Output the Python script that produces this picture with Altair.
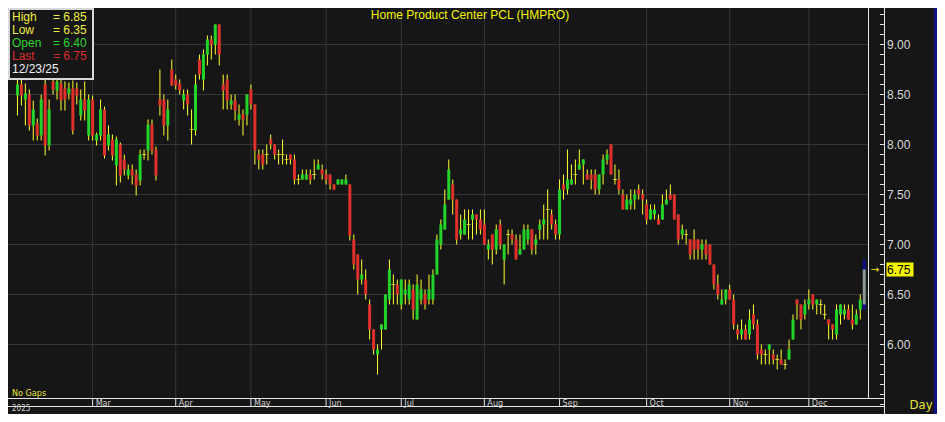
import altair as alt
import pandas as pd

# ---- OHLC readings, one per trading day (Feb 3 2025 .. Dec 23 2025) ----
opens = [8.49, 8.60, 8.45, 8.50, 8.19, 8.21, 8.09, 8.60, 7.99, 8.63,
         8.54, 8.61, 8.56, 8.51, 8.56, 8.56, 8.29, 8.45, 8.09, 8.45,
         8.04, 8.09, 8.35, 7.99, 8.05, 7.79, 8.00, 7.85, 7.69, 7.75,
         7.70, 7.64, 7.90, 7.94, 8.20, 7.95, 8.45, 8.45, 8.19, 8.75,
         8.65, 8.61, 8.44, 8.50, 8.15, 8.14, 8.85, 8.65, 8.90, 9.05,
         9.00, 9.20, 8.60, 8.65, 8.40, 8.44, 8.25, 8.30, 8.30, 8.55,
         8.40, 7.90, 7.90, 7.90, 8.05, 8.00, 7.90, 7.90, 7.85, 7.90,
         7.85, 7.65, 7.65, 7.65, 7.70, 7.70, 7.75, 7.75, 7.70, 7.70,
         7.60, 7.60, 7.60, 7.60, 7.60, 7.05, 6.90, 6.65, 6.65, 6.40,
         6.15, 5.90, 6.15, 6.15, 6.45, 6.60, 6.60, 6.40, 6.50, 6.45,
         6.55, 6.25, 6.45, 6.50, 6.45, 6.45, 6.70, 7.00, 7.15, 7.45,
         7.60, 7.45, 7.10, 7.10, 7.20, 7.25, 7.30, 7.25, 7.20, 6.95,
         7.10, 6.95, 7.20, 6.85, 7.10, 7.10, 7.05, 6.90, 6.95, 7.05,
         7.15, 7.00, 7.15, 7.20, 7.35, 7.30, 7.20, 7.10, 7.60, 7.55,
         7.60, 7.70, 7.75, 7.80, 7.70, 7.70, 7.70, 7.55, 7.70, 7.85,
         8.00, 7.65, 7.65, 7.50, 7.35, 7.40, 7.45, 7.55, 7.50, 7.40,
         7.25, 7.30, 7.25, 7.25, 7.40, 7.50, 7.50, 7.30, 7.10, 7.10,
         7.05, 7.05, 7.05, 6.95, 7.00, 7.00, 6.80, 6.60, 6.40, 6.45,
         6.55, 6.45, 6.15, 6.10, 6.15, 6.10, 6.30, 6.20, 5.95, 5.90,
         5.95, 5.90, 5.85, 5.85, 5.80, 5.85, 6.05, 6.45, 6.40, 6.30,
         6.40, 6.50, 6.40, 6.40, 6.30, 6.25, 6.20, 6.10, 6.30, 6.30,
         6.35, 6.25, 6.20, 6.35, 6.40]
highs = [8.66, 8.70, 8.61, 8.55, 8.44, 8.26, 8.50, 8.65, 8.45, 8.70,
         8.70, 8.66, 8.63, 8.62, 8.64, 8.62, 8.55, 8.63, 8.50, 8.49,
         8.12, 8.45, 8.38, 8.19, 8.10, 8.08, 8.02, 7.90, 7.80, 7.80,
         7.75, 7.95, 7.95, 8.25, 8.25, 7.98, 8.75, 8.50, 8.45, 8.85,
         8.70, 8.65, 8.55, 8.55, 8.35, 8.70, 8.90, 8.95, 9.09, 9.09,
         9.20, 9.20, 8.70, 8.70, 8.50, 8.50, 8.40, 8.35, 8.50, 8.60,
         8.40, 7.95, 7.95, 8.00, 8.10, 8.00, 7.95, 8.05, 7.90, 7.90,
         7.90, 7.70, 7.75, 7.75, 7.75, 7.85, 7.85, 7.80, 7.75, 7.70,
         7.60, 7.65, 7.65, 7.70, 7.60, 7.10, 6.90, 6.85, 6.75, 6.45,
         6.15, 6.00, 6.20, 6.50, 6.85, 6.70, 6.65, 6.65, 6.65, 6.65,
         6.60, 6.70, 6.65, 6.55, 6.70, 6.75, 7.10, 7.25, 7.55, 7.85,
         7.65, 7.45, 7.30, 7.35, 7.35, 7.35, 7.30, 7.35, 7.35, 7.05,
         7.10, 7.20, 7.25, 7.00, 7.15, 7.15, 7.10, 7.10, 7.20, 7.20,
         7.15, 7.10, 7.25, 7.40, 7.55, 7.35, 7.25, 7.65, 7.70, 7.95,
         7.80, 7.85, 7.95, 7.85, 7.75, 7.75, 7.75, 7.70, 7.90, 7.95,
         8.00, 7.80, 7.75, 7.55, 7.50, 7.55, 7.55, 7.60, 7.55, 7.45,
         7.40, 7.40, 7.30, 7.50, 7.55, 7.60, 7.50, 7.30, 7.20, 7.15,
         7.05, 7.15, 7.05, 7.05, 7.05, 7.00, 6.80, 6.70, 6.55, 6.55,
         6.60, 6.50, 6.20, 6.25, 6.20, 6.35, 6.40, 6.25, 6.00, 5.95,
         6.00, 5.95, 5.90, 5.95, 5.85, 6.05, 6.30, 6.45, 6.40, 6.45,
         6.55, 6.50, 6.45, 6.45, 6.40, 6.25, 6.20, 6.40, 6.40, 6.40,
         6.40, 6.40, 6.35, 6.50, 6.85]
lows = [8.29, 8.39, 8.19, 8.14, 8.04, 8.04, 8.04, 7.89, 7.94, 8.50,
        8.45, 8.34, 8.34, 8.45, 8.10, 8.40, 8.24, 8.24, 8.04, 8.04,
        7.99, 8.04, 7.86, 7.94, 7.84, 7.59, 7.62, 7.69, 7.65, 7.60,
        7.49, 7.59, 7.85, 7.84, 7.90, 7.64, 8.29, 8.09, 8.04, 8.59,
        8.55, 8.50, 8.35, 8.29, 8.00, 8.09, 8.65, 8.54, 8.79, 8.85,
        8.90, 8.79, 8.35, 8.35, 8.35, 8.24, 8.19, 8.09, 8.19, 8.35,
        7.80, 7.75, 7.75, 7.80, 7.95, 7.85, 7.80, 7.80, 7.80, 7.80,
        7.60, 7.60, 7.65, 7.65, 7.60, 7.65, 7.75, 7.65, 7.60, 7.55,
        7.55, 7.60, 7.60, 7.60, 7.04, 6.75, 6.50, 6.60, 6.45, 6.05,
        5.90, 5.70, 5.95, 6.15, 6.40, 6.40, 6.40, 6.35, 6.40, 6.40,
        6.25, 6.25, 6.40, 6.35, 6.40, 6.40, 6.70, 6.95, 7.15, 7.45,
        7.30, 7.00, 7.05, 7.10, 7.05, 7.05, 7.10, 7.10, 7.00, 6.85,
        6.80, 6.90, 6.95, 6.60, 6.90, 7.00, 6.85, 6.90, 6.95, 7.00,
        6.90, 6.90, 7.05, 7.05, 7.05, 7.15, 7.05, 7.05, 7.45, 7.50,
        7.60, 7.60, 7.75, 7.60, 7.65, 7.55, 7.50, 7.50, 7.60, 7.80,
        7.70, 7.60, 7.50, 7.35, 7.35, 7.35, 7.35, 7.45, 7.30, 7.20,
        7.25, 7.25, 7.20, 7.25, 7.40, 7.45, 7.25, 7.00, 7.05, 7.00,
        6.85, 6.85, 6.85, 6.85, 6.85, 6.80, 6.55, 6.45, 6.40, 6.40,
        6.45, 6.15, 6.05, 6.05, 6.05, 6.05, 6.15, 5.85, 5.80, 5.80,
        5.80, 5.80, 5.75, 5.80, 5.75, 5.85, 6.05, 6.25, 6.15, 6.25,
        6.35, 6.35, 6.30, 6.30, 6.25, 6.05, 6.05, 6.05, 6.20, 6.25,
        6.25, 6.15, 6.20, 6.25, 6.35]
closes = [8.60, 8.49, 8.51, 8.19, 8.35, 8.09, 8.45, 7.99, 8.35, 8.55,
          8.63, 8.44, 8.45, 8.56, 8.14, 8.49, 8.45, 8.34, 8.45, 8.09,
          8.10, 8.35, 7.89, 8.10, 7.89, 8.05, 7.69, 7.75, 7.75, 7.69,
          7.59, 7.90, 7.90, 8.20, 7.94, 7.69, 8.39, 8.19, 8.35, 8.59,
          8.59, 8.54, 8.50, 8.40, 8.15, 8.60, 8.70, 8.90, 9.05, 9.00,
          9.20, 8.90, 8.54, 8.44, 8.44, 8.34, 8.30, 8.25, 8.50, 8.40,
          7.94, 7.85, 7.80, 7.90, 8.00, 7.90, 7.90, 7.90, 7.85, 7.85,
          7.65, 7.65, 7.70, 7.70, 7.65, 7.70, 7.80, 7.70, 7.65, 7.60,
          7.55, 7.65, 7.65, 7.65, 7.09, 6.80, 6.65, 6.70, 6.50, 6.15,
          5.95, 5.95, 6.20, 6.50, 6.75, 6.60, 6.50, 6.65, 6.55, 6.60,
          6.35, 6.60, 6.55, 6.40, 6.55, 6.70, 7.05, 7.20, 7.40, 7.75,
          7.45, 7.05, 7.15, 7.25, 7.20, 7.30, 7.25, 7.15, 7.00, 7.00,
          6.95, 7.15, 7.00, 7.00, 7.10, 7.05, 6.85, 6.95, 7.15, 7.15,
          6.95, 7.05, 7.20, 7.25, 7.35, 7.20, 7.10, 7.55, 7.55, 7.65,
          7.65, 7.70, 7.80, 7.85, 7.65, 7.65, 7.55, 7.70, 7.85, 7.90,
          7.70, 7.65, 7.55, 7.35, 7.45, 7.45, 7.50, 7.50, 7.45, 7.25,
          7.35, 7.35, 7.20, 7.40, 7.45, 7.45, 7.25, 7.05, 7.15, 7.10,
          6.90, 6.95, 6.95, 7.00, 6.90, 6.80, 6.60, 6.50, 6.45, 6.55,
          6.45, 6.20, 6.10, 6.15, 6.05, 6.25, 6.20, 5.90, 5.90, 5.90,
          6.00, 5.85, 5.85, 5.80, 5.80, 5.95, 6.25, 6.40, 6.25, 6.40,
          6.45, 6.40, 6.45, 6.40, 6.30, 6.20, 6.15, 6.35, 6.40, 6.35,
          6.25, 6.20, 6.30, 6.45, 6.75]

month_labels = ["Mar", "Apr", "May", "Jun", "Jul", "Aug", "Sep", "Oct", "Nov", "Dec"]
month_first_bar = [19, 40, 59, 78, 97, 118, 137, 159, 180, 200]
price_labels = [6.0, 6.5, 7.0, 7.5, 8.0, 8.5, 9.0]
minor_ticks = [5.4, 5.5, 5.6, 5.7, 5.8, 5.9, 6.0, 6.1, 6.2, 6.3, 6.4, 6.5, 6.6, 6.7,
               6.8, 6.9, 7.0, 7.1, 7.2, 7.3, 7.4, 7.5, 7.6, 7.7, 7.8, 7.9, 8.0, 8.1,
               8.2, 8.3, 8.4, 8.5, 8.6, 8.7, 8.8, 8.9, 9.0, 9.1, 9.2, 9.3]
title_text = "Home  Product  Center  PCL  (HMPRO)"
info_names = ["High", "Low", "Open", "Last"]
info_values = ["= 6.85", "= 6.35", "= 6.40", "= 6.75"]
last_date = "12/23/25"
last_price = 6.75

# ---- style ----
BG = "#161616"
GRID = "#363636"
WICK = "#ffff30"
UP = "#22d42a"
DOWN = "#e0302c"
YEL = "#f4f400"
WHITE = "#e6e6e6"
NAVY = "#10108a"
FONT = "Liberation Sans"
NARROW = "Liberation Sans Narrow, DejaVu Sans Condensed, Liberation Sans"

W, H = 929, 406
xs = alt.Scale(domain=[-1.125, -1.125 + W / 4], nice=False, zero=False)
ys = alt.Scale(domain=[9.365 - H / 100, 9.365], nice=False, zero=False)

n = len(closes)
df = pd.DataFrame({"i": list(range(n)), "open": opens, "high": highs,
                   "low": lows, "close": closes})
df["dir"] = ["up" if c > o else ("down" if c < o else "flat") for o, c in zip(opens, closes)]
hist = df[df.i < n - 1]
body = hist[hist.dir != "flat"]
doji = hist[hist.dir == "flat"]
last = df[df.i == n - 1]

one = pd.DataFrame({"z": [0]})
months = pd.DataFrame({"i": month_first_bar, "m": month_labels})
plabels = pd.DataFrame({"v": price_labels, "t": [f"{v:.2f}" for v in price_labels]})
mticks = pd.DataFrame({"v": minor_ticks})
lastdf = pd.DataFrame({"v": [last_price], "t": [f"{last_price:.2f}"]})


def X():
    return alt.X("i:Q", scale=xs, axis=None)


def Yf(field):
    return alt.Y(field, scale=ys, axis=None)


def rule(x1, x2, y1, y2, color, w=1):
    return alt.Chart(one).mark_rule(color=color, strokeWidth=w).encode(
        x=alt.value(x1), x2=alt.value(x2), y=alt.value(y1), y2=alt.value(y2))


def label(txt, x, y, color, size, font=FONT, align="left", baseline="middle"):
    return alt.Chart(one).mark_text(text=txt, color=color, fontSize=size, font=font,
                                    align=align, baseline=baseline).encode(
        x=alt.value(x), y=alt.value(y))


layers = []

# horizontal grid
layers.append(alt.Chart(plabels).mark_rule(color=GRID, strokeWidth=1).encode(
    y=Yf("v:Q"), x=alt.value(0), x2=alt.value(860)))

# vertical month grid
layers.append(alt.Chart(months).mark_rule(color=GRID, strokeWidth=1).encode(
    x=X(), y=alt.value(0), y2=alt.value(390.5)))

# frame lines
layers.append(rule(0, 876.5, 390.5, 390.5, WHITE))
layers.append(rule(0, 876.5, 398.5, 398.5, WHITE))
layers.append(rule(876.5, 876.5, 0, H, WHITE))
layers.append(rule(860.5, 860.5, 0, 390.5, WHITE))

# month ticks and labels
layers.append(alt.Chart(months).mark_rule(color=WHITE, strokeWidth=1).encode(
    x=X(), y=alt.value(390.5), y2=alt.value(398.5)))
layers.append(alt.Chart(months).mark_text(align="left", baseline="middle", dx=3,
                                          fontSize=9, font=NARROW, color="#d0d0d0").encode(
    x=X(), y=alt.value(394.5), text="m:N"))

# price axis: minor ticks and labels
layers.append(alt.Chart(mticks).mark_rule(color=WHITE, strokeWidth=1).encode(
    y=Yf("v:Q"), x=alt.value(872), x2=alt.value(876)))
layers.append(alt.Chart(plabels).mark_text(align="left", baseline="middle", fontSize=12,
                                           font=FONT, color="#d8d8d8").encode(
    y=Yf("v:Q"), x=alt.value(879), text="t:N"))

# candles: wicks (1px bars), bodies, dojis
layers.append(alt.Chart(hist).mark_bar(size=1, color=WICK).encode(
    x=X(), y=Yf("low:Q"), y2="high:Q"))
layers.append(alt.Chart(body).mark_bar(size=3).encode(
    x=X(), y=Yf("open:Q"), y2="close:Q",
    color=alt.Color("dir:N", scale=alt.Scale(domain=["up", "down"], range=[UP, DOWN]),
                    legend=None)))
layers.append(alt.Chart(doji).mark_tick(orient="horizontal", color=WICK,
                                        thickness=1, size=4).encode(
    x=X(), y=Yf("close:Q")))

# highlighted last bar
layers.append(alt.Chart(last).mark_bar(size=3, color=NAVY).encode(
    x=X(), y=Yf("low:Q"), y2="high:Q"))
layers.append(alt.Chart(last).mark_bar(size=3, color="#8e9a8e").encode(
    x=X(), y=Yf("open:Q"), y2="close:Q"))

# last price marker on the axis
layers.append(alt.Chart(lastdf).mark_text(text="\u2192", color=YEL, fontSize=10,
                                          font="DejaVu Sans", align="center",
                                          baseline="middle").encode(
    x=alt.value(867), y=Yf("v:Q")))
layers.append(alt.Chart(lastdf).mark_tick(orient="horizontal", color=YEL,
                                          thickness=14, size=27, opacity=1).encode(
    x=alt.value(892), y=Yf("v:Q")))
layers.append(alt.Chart(lastdf).mark_text(color="#000000", fontSize=12, font=FONT,
                                          align="left", baseline="middle").encode(
    x=alt.value(879), y=Yf("v:Q"), text="t:N"))

# title
layers.append(label(title_text, 462, 7, YEL, 12, align="center"))

# info box
layers.append(alt.Chart(one).mark_rect(fill=BG, stroke="#d8d8d8", strokeWidth=2).encode(
    x=alt.value(1), x2=alt.value(85), y=alt.value(1), y2=alt.value(71)))
info_colors = ["#eeee44", "#eeee44", "#2ed22e", "#dc2c2c"]
info_y = [9, 22, 35, 48]
for name, val, col, yy in zip(info_names, info_values, info_colors, info_y):
    layers.append(label(name, 4, yy, col, 12))
    layers.append(label(val, 45, yy, col, 12))
layers.append(label(last_date, 4, 61, "#f0f0f0", 12))

# small texts
layers.append(label("No Gaps", 4, 385, "#e6e63a", 9, font=NARROW))
layers.append(label("2025", 4, 405, "#d0d0d0", 8, font=NARROW, baseline="bottom"))
layers.append(label("Day", 913, 397, "#e6e63a", 13, font=NARROW, align="center"))

# outer frame (right)
layers.append(rule(927.5, 927.5, 0, H, NAVY, 3))

chart = alt.layer(*layers).properties(
    width=W, height=H, padding=0, background=BG,
    autosize=alt.AutoSizeParams(type="none"),
).configure_view(stroke=None)

chart.save("out.html", embed_options={"renderer": "svg", "actions": False})
